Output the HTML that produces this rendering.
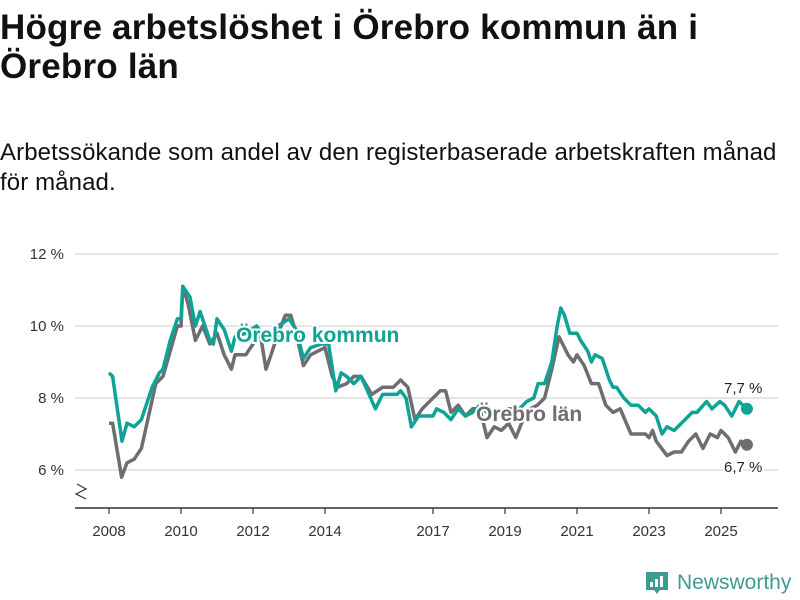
<!DOCTYPE html>
<html><head><meta charset="utf-8"><style>
body{margin:0;background:#fff;width:800px;height:600px;overflow:hidden;font-family:"Liberation Sans","DejaVu Sans",sans-serif;color:#111}
#title{position:absolute;left:0;top:8px;font-size:35px;font-weight:bold;line-height:39px;margin:0;width:800px;white-space:nowrap;letter-spacing:0.2px}
#sub{position:absolute;left:0;top:138px;font-size:24px;line-height:30px;margin:0;width:800px;white-space:nowrap;letter-spacing:0.1px}
svg{position:absolute;left:0;top:0}
</style></head><body>
<h1 id="title">Högre arbetslöshet i Örebro kommun än i<br>Örebro län</h1>
<p id="sub">Arbetssökande som andel av den registerbaserade arbetskraften månad<br>för månad.</p>
<svg id="chart" width="800" height="600"></svg>
<script>
const yTicks=[6,8,10,12];
const yTickLabels=["6 %","8 %","10 %","12 %"];
const xTicks=[2008,2010,2012,2014,2017,2019,2021,2023,2025];
const kommunDates=[2008.0,2008.1,2008.36,2008.5,2008.7,2008.9,2009.2,2009.4,2009.5,2009.7,2009.9,2010.0,2010.05,2010.25,2010.4,2010.53,2010.8,2010.9,2011.0,2011.2,2011.4,2011.5,2011.8,2012.1,2012.4,2012.7,2013.0,2013.2,2013.4,2013.6,2013.9,2014.1,2014.3,2014.45,2014.6,2014.8,2015.0,2015.4,2015.6,2016.0,2016.1,2016.25,2016.4,2016.6,2017.0,2017.1,2017.3,2017.5,2017.7,2017.9,2018.1,2018.3,2018.5,2018.8,2019.1,2019.4,2019.6,2019.8,2019.92,2020.1,2020.3,2020.45,2020.55,2020.65,2020.8,2021.0,2021.1,2021.3,2021.4,2021.5,2021.7,2021.9,2022.0,2022.1,2022.3,2022.5,2022.7,2022.9,2023.0,2023.2,2023.36,2023.5,2023.7,2024.0,2024.2,2024.33,2024.6,2024.75,2024.97,2025.1,2025.3,2025.5,2025.72];
const kommunValues=[8.7,8.6,6.8,7.3,7.2,7.4,8.3,8.7,8.8,9.6,10.2,10.2,11.1,10.8,10.0,10.4,9.6,9.5,10.2,9.9,9.3,9.7,9.8,10.0,9.6,10.0,10.2,9.9,9.1,9.4,9.5,9.5,8.2,8.7,8.6,8.4,8.6,7.7,8.1,8.1,8.2,8.0,7.2,7.5,7.5,7.7,7.6,7.4,7.7,7.5,7.6,7.8,7.6,7.6,7.7,7.7,7.9,8.0,8.4,8.4,9.0,10.0,10.5,10.3,9.8,9.8,9.6,9.3,9.0,9.2,9.1,8.5,8.3,8.3,8.0,7.8,7.8,7.6,7.7,7.5,7.0,7.2,7.1,7.4,7.6,7.6,7.9,7.7,7.9,7.8,7.5,7.9,7.7];
const lanDates=[2008.0,2008.1,2008.35,2008.5,2008.7,2008.9,2009.1,2009.3,2009.5,2009.7,2009.9,2010.0,2010.05,2010.2,2010.4,2010.6,2010.8,2011.0,2011.2,2011.4,2011.5,2011.8,2012.0,2012.2,2012.36,2012.5,2012.7,2012.9,2013.05,2013.2,2013.4,2013.6,2013.8,2014.0,2014.2,2014.35,2014.6,2014.8,2015.0,2015.3,2015.6,2015.9,2016.1,2016.3,2016.5,2016.7,2017.0,2017.2,2017.35,2017.5,2017.7,2017.9,2018.1,2018.3,2018.5,2018.7,2018.9,2019.1,2019.3,2019.5,2019.7,2019.9,2020.1,2020.3,2020.5,2020.6,2020.75,2020.9,2021.0,2021.2,2021.4,2021.6,2021.8,2022.0,2022.2,2022.5,2022.7,2022.9,2023.0,2023.1,2023.2,2023.5,2023.7,2023.9,2024.1,2024.3,2024.5,2024.7,2024.9,2025.0,2025.2,2025.4,2025.55,2025.72];
const lanValues=[7.3,7.3,5.8,6.2,6.3,6.6,7.5,8.4,8.6,9.3,10.0,10.0,11.1,10.6,9.6,10.0,9.5,9.8,9.2,8.8,9.2,9.2,9.5,9.8,8.8,9.2,9.8,10.3,10.3,9.8,8.9,9.2,9.3,9.4,8.6,8.3,8.4,8.6,8.6,8.1,8.3,8.3,8.5,8.3,7.4,7.7,8.0,8.2,8.2,7.6,7.8,7.5,7.7,7.7,6.9,7.2,7.1,7.3,6.9,7.4,7.7,7.8,8.0,8.8,9.7,9.5,9.2,9.0,9.2,8.9,8.4,8.4,7.8,7.6,7.7,7.0,7.0,7.0,6.9,7.1,6.8,6.4,6.5,6.5,6.8,7.0,6.6,7.0,6.9,7.1,6.9,6.5,6.8,6.7];
const kommunEndLabel="7,7 %";
const lanEndLabel="6,7 %";

const NS="http://www.w3.org/2000/svg";
const svg=document.getElementById('chart');
const xs=d=>109+(d-2008)*36;
const ys=v=>470-(v-6)*36;
function mk(tag,attrs,parent){const e=document.createElementNS(NS,tag);for(const k in attrs)e.setAttribute(k,attrs[k]);(parent||svg).appendChild(e);return e;}

yTicks.forEach((t,i)=>{
  const g=mk('line',{x1:75,x2:778,y1:ys(t),y2:ys(t),stroke:'#ddd','stroke-width':1.5});
  
  
  const tx=mk('text',{x:64,y:ys(t)+5,'text-anchor':'end','font-size':15,fill:'#333'});
  tx.textContent=yTickLabels[i];
  
  
});
const brk=mk('path',{d:'M77,484 L86,489 L76,494 L86,499',fill:'none',stroke:'#333','stroke-width':1.2});


const ax=mk('line',{x1:75,x2:778,y1:508,y2:508,stroke:'#333','stroke-width':1.5});


xTicks.forEach(t=>{
  const tk=mk('line',{x1:xs(t),x2:xs(t),y1:508,y2:514,stroke:'#333','stroke-width':1.2});
  
  
  const tx=mk('text',{x:xs(t),y:536,'text-anchor':'middle','font-size':15,fill:'#333'});
  tx.textContent=t;
  
  
});
function line(dates,vals,color,name){
  const d=dates.map((t,i)=>(i?'L':'M')+xs(t).toFixed(1)+','+ys(vals[i]).toFixed(1)).join(' ');
  const p=mk('path',{d:d,fill:'none',stroke:color,'stroke-width':3.5,'stroke-linejoin':'round'});
  
  
  const n=dates.length-1;
  const c=mk('circle',{cx:xs(dates[n]),cy:ys(vals[n]),r:6,fill:color});
  
  
}
line(lanDates,lanValues,'#6e6d72','lan-line');
line(kommunDates,kommunValues,'#0fa396','kommun-line');
function label(x,y,txt,color,size,weight,name){
  const t=mk('text',{x:x,y:y,'font-size':size,'font-weight':weight,fill:color,stroke:'#fff','stroke-width':4,'paint-order':'stroke'});
  t.textContent=txt;
  
  
}
label(236,342,'Örebro kommun','#0fa396',21,'bold','kommun-label');
label(476,421,'Örebro län','#6e6d72',21,'bold','lan-label');
const nk=kommunValues.length-1, nl=lanValues.length-1;
label(724,ys(kommunValues[nk])-16,kommunEndLabel,'#222',15,'normal','kommun-end-label');
label(724,ys(lanValues[nl])+27,lanEndLabel,'#222',15,'normal','lan-end-label');
const lg=mk('g',{});


mk('path',{d:'M646,572 h22 v18 h-8 l-3,4 l-3,-4 h-8 z',fill:'#3e9a94'},lg);
mk('rect',{x:650,y:582,width:3,height:5,fill:'#fff'},lg);
mk('rect',{x:655,y:579,width:3,height:8,fill:'#fff'},lg);
mk('rect',{x:660,y:576,width:3,height:11,fill:'#fff'},lg);
const lt=mk('text',{x:677,y:589,'font-size':21,fill:'#3e9a94'},lg);
lt.textContent='Newsworthy';
</script>
</body></html>
